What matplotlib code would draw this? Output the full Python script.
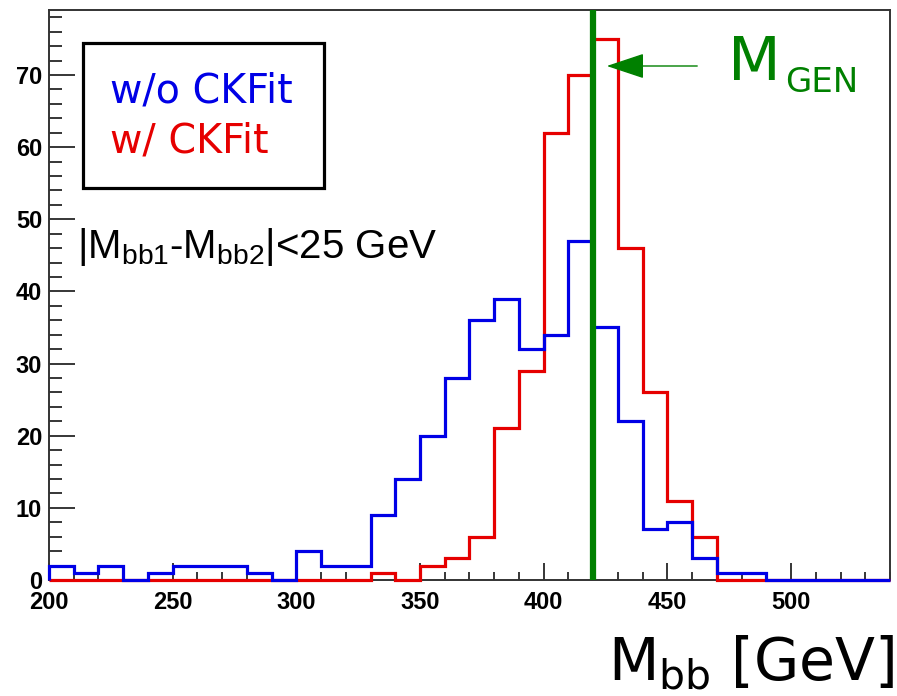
import numpy as np
import matplotlib
matplotlib.use("Agg")
import matplotlib.pyplot as plt
from matplotlib.patches import Rectangle, FancyArrowPatch
from matplotlib.ticker import MultipleLocator

plt.rcParams["mathtext.fontset"] = "custom"
plt.rcParams["mathtext.rm"] = "Liberation Sans"

# 10 GeV bins from 200 to 540 GeV
bin_edges = list(range(200, 550, 10))
counts_no_fit = [2, 1, 2, 0, 1, 2, 2, 2, 1, 0,
                 4, 2, 2, 9, 14, 20, 28, 36, 39, 32,
                 34, 47, 35, 22, 7, 8, 3, 1, 1, 0,
                 0, 0, 0, 0]
counts_fit = [0, 0, 0, 0, 0, 0, 0, 0, 0, 0,
              0, 0, 0, 1, 0, 2, 3, 6, 21, 29,
              62, 70, 75, 46, 26, 11, 6, 0, 0, 0,
              0, 0, 0, 0]
m_gen = 420
x_ticks = [200, 250, 300, 350, 400, 450, 500]
y_ticks = [0, 10, 20, 30, 40, 50, 60, 70]

W, H = 897, 696
fig = plt.figure(figsize=(W / 100, H / 100), dpi=100)


def px(x, y):
    return (x / W, 1 - y / H)


ax = fig.add_axes([49 / W, 1 - 580 / H, (890 - 49) / W, (580 - 10) / H])
ax.set_xlim(200, 540)
ax.set_ylim(0, 79)

blue = "#0000e6"
red = "#e60000"
green = "#008000"

ax.stairs(counts_fit, bin_edges, color=red, lw=2.3, zorder=3, clip_on=False)
ax.stairs(counts_no_fit, bin_edges, color=blue, lw=2.3, zorder=4, clip_on=False)
ax.axvline(m_gen, color=green, lw=4.5, zorder=5)

for s in ax.spines.values():
    s.set_linewidth(1.4)
    s.set_color("#333333")

ax.set_xticks(x_ticks)
ax.set_yticks(y_ticks)
ax.xaxis.set_minor_locator(MultipleLocator(10))
ax.yaxis.set_minor_locator(MultipleLocator(2))
ax.tick_params(axis="y", which="major", direction="in", length=19, width=1.1, pad=5)
ax.tick_params(axis="y", which="minor", direction="in", length=9.5, width=1.1)
ax.tick_params(axis="x", which="major", direction="in", length=12, width=1.1, pad=8)
ax.tick_params(axis="x", which="minor", direction="in", length=6, width=1.1)
for lab in ax.get_xticklabels() + ax.get_yticklabels():
    lab.set_fontfamily("Liberation Sans")
    lab.set_fontweight("bold")
    lab.set_fontsize(17)

# legend box with coloured entries
fig.patches.append(Rectangle(px(83, 188), (324 - 83) / W, (188 - 43) / H,
                             transform=fig.transFigure, fill=False,
                             lw=2.3, ec="black", zorder=6))
fig.text(*px(110, 102), "w/o CKFit", color=blue, fontsize=28.5,
         family="DejaVu Sans", va="baseline", ha="left")
fig.text(*px(110, 152), "w/ CKFit", color=red, fontsize=28.5,
         family="DejaVu Sans", va="baseline", ha="left")

# selection cut
fig.text(*px(77, 258), r"|M$_{\rm bb1}$-M$_{\rm bb2}$|<25 GeV", color="black",
         fontsize=29, family="Liberation Sans", va="baseline", ha="left")

# generated mass marker
arrow = FancyArrowPatch(px(700, 66), px(604, 66), transform=fig.transFigure,
                        arrowstyle="-|>,head_length=2.4,head_width=0.8",
                        mutation_scale=10, color=green, lw=1.0, zorder=7)
fig.patches.append(arrow)
fig.text(*px(728, 80), "M", color=green, fontsize=44, family="DejaVu Sans",
         va="baseline", ha="left")
fig.text(*px(785, 92), "GEN", color=green, fontsize=24.5, family="DejaVu Sans",
         va="baseline", ha="left")

# axis title
fig.text(*px(895, 680), r"M$_{\rm bb}$ [GeV]", color="black", fontsize=42,
         family="DejaVu Sans", math_fontfamily="dejavusans",
         va="baseline", ha="right")

fig.savefig("out.png", dpi=100, facecolor="white")
